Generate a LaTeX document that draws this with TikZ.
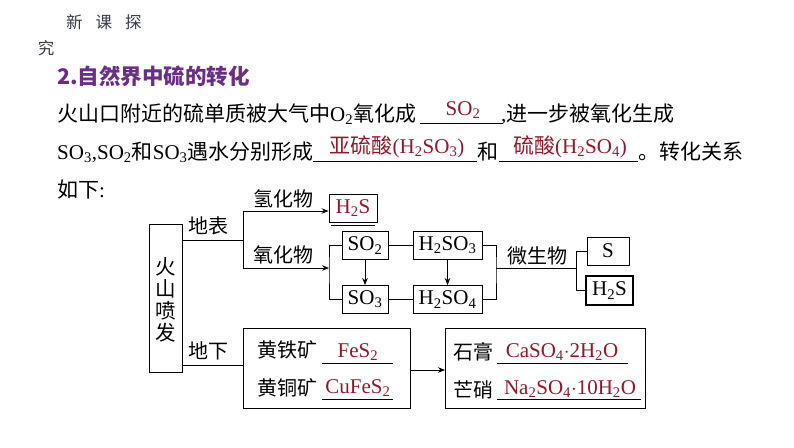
\documentclass[tikz,border=0pt]{standalone}
\usepackage{fontspec}
\setmainfont{Liberation Serif}
\newfontfamily\cjk{Noto Sans CJK SC}
\usetikzlibrary{arrows.meta}
\definecolor{ansred}{RGB}{145,25,45}
\definecolor{titlepurple}{RGB}{108,45,135}
\definecolor{hdrgray}{RGB}{55,60,75}
\newcommand{\sbs}[1]{\textsubscript{#1}}
\tikzset{
  bodytxt/.style={anchor=base west, inner sep=0pt, font=\fontsize{21}{21}\selectfont},
  anstxt/.style={anchor=base, inner sep=0pt, text=ansred, font=\fontsize{21}{21}\selectfont},
  lbl/.style={inner sep=0pt, font=\cjk\fontsize{20}{20}\selectfont},
  fbox/.style={draw, line width=0.9pt, inner sep=0pt, font=\fontsize{21}{21}\selectfont},
  conn/.style={line width=0.9pt},
  arr/.style={line width=0.9pt, -{Stealth[length=7pt,width=5.5pt]}},
  blank/.style={line width=0.9pt}
}
\begin{document}
\begin{tikzpicture}[x=1pt,y=-1pt]
\useasboundingbox[fill=white] (0,0) rectangle (794,447);

% header
\node[inner sep=0pt, text=hdrgray, font=\cjk\fontsize{16.5}{16.5}\selectfont, anchor=west] (hdr) at (66,22) {新\hspace{13pt}课\hspace{13pt}探};
\node[inner sep=0pt, text=hdrgray, font=\cjk\fontsize{16.5}{16.5}\selectfont] (hdr2) at (46,48) {究};
\node[inner sep=0pt, text=titlepurple, font=\cjk\bfseries\fontsize{21.5}{21.5}\selectfont, anchor=west] (title) at (57,76) {2.自然界中硫的转化};

% line 1
\node[bodytxt] (l1a) at (57,121) {{\cjk 火山口附近的硫单质被大气中}O\sbs{2}{\cjk 氧化成}};
\draw[blank] (420,123) coordinate (u1a) -- (503,123) coordinate (u1b);
\node[anstxt] (a1) at (463,115) {SO\sbs{2}};
\node[bodytxt] (l1b) at (501,121) {,{\cjk 进一步被氧化生成}};

% line 2
\node[bodytxt] (l2a) at (57,159) {SO\sbs{3},SO\sbs{2}{\cjk 和}SO\sbs{3}{\cjk 遇水分别形成}};
\draw[blank] (313,161) coordinate (u2a) -- (477,161) coordinate (u2b);
\node[anstxt] (a2) at (397,153) {{\cjk 亚硫酸}(H\sbs{2}SO\sbs{3})};
\node[bodytxt] (l2b) at (477,159) {{\cjk 和}};
\draw[blank] (499,161) coordinate (u3a) -- (638,161) coordinate (u3b);
\node[anstxt] (a3) at (570,153) {{\cjk 硫酸}(H\sbs{2}SO\sbs{4})};
\node[bodytxt] (l2c) at (638,159) {{\cjk 。转化关系}};

% line 3
\node[bodytxt] (l3) at (57,197) {{\cjk 如下}:};

% volcano box
\node[draw, line width=0.9pt, minimum width=33pt, minimum height=148pt, inner sep=0pt] (volc) at (165.5,298) {};
\node[lbl, align=center, font=\cjk\fontsize{20.5}{22}\selectfont] (volct) at (165.5,300) {火\\山\\喷\\发};

% surface branch
\coordinate (js) at (243,240);
\draw[conn] (volc.east |- js) -- (js);
\node[lbl] (surf) at (208,226) {地表};
\coordinate (jst) at (243,211);
\coordinate (jsb) at (243,268);
\draw[conn] (jst) -- (jsb);
\node[lbl] (hyd) at (283,199) {氢化物};
\node[lbl] (oxi) at (283,255) {氧化物};

% H2S top
\node[fbox, minimum width=48pt, minimum height=28pt, text=ansred] (h2sa) at (353,208) {H\sbs{2}S};
\draw[arr] (jst) -- (h2sa.west |- jst);
\draw[conn] ([xshift=2pt,yshift=-3pt]h2sa.south west) -- ([xshift=-2pt,yshift=-3pt]h2sa.south east);

% oxide bracket
\coordinate (ob) at (329,268);
\draw[arr] (jsb) -- (ob);
\node[fbox, minimum width=46pt, minimum height=28pt] (so2) at (365,245.5) {SO\sbs{2}};
\node[fbox, minimum width=46pt, minimum height=28pt] (so3) at (365,299.5) {SO\sbs{3}};
\draw[conn] (so2.west) -| (ob) |- (so3.west);
\draw[arr] (so2.south) -- (so3.north);

\node[fbox, minimum width=69pt, minimum height=28pt] (h2so3) at (447.5,245.5) {H\sbs{2}SO\sbs{3}};
\node[fbox, minimum width=69pt, minimum height=28pt] (h2so4) at (447.5,299.5) {H\sbs{2}SO\sbs{4}};
\draw[conn] (so2.east) -- (h2so3.west);
\draw[conn] (so3.east) -- (h2so4.west);
\draw[arr] (h2so3.south) -- (h2so4.north);

\coordinate (rb) at (496,268);
\draw[conn] (h2so3.east) -| (rb) |- (h2so4.east);
\coordinate (mb) at (576,268);
\draw[conn] (rb) -- (mb);
\node[lbl] (micro) at (537,256) {微生物};

\node[fbox, minimum width=42pt, minimum height=28pt] (s) at (608,251) {S};
\node[fbox, line width=1.5pt, minimum width=47pt, minimum height=29pt] (h2sb) at (609.5,290.5) {H\sbs{2}S};
\draw[conn] (s.west) -| (mb) |- (h2sb.west);

% underground
\coordinate (ju) at (243,365);
\draw[conn] (volc.east |- ju) -- (ju);
\node[lbl] (under) at (208,351) {地下};
\node[draw, line width=0.9pt, minimum width=167pt, minimum height=80pt, inner sep=0pt, anchor=north west] (ore) at (243,328) {};
\node[draw, line width=0.9pt, minimum width=200pt, minimum height=80pt, inner sep=0pt, anchor=north west] (salt) at (445,328) {};
\draw[arr] (ore.east |- 0,370) -- (salt.west |- 0,370);

\node[lbl, anchor=west] (pyr) at (257,350) {黄铁矿};
\draw[blank] (322,363) coordinate (u4a) -- (393,363) coordinate (u4b);
\node[anstxt] (a4) at (358,357) {FeS\sbs{2}};
\node[lbl, anchor=west] (chal) at (257,388) {黄铜矿};
\draw[blank] (322,399) coordinate (u5a) -- (393,399) coordinate (u5b);
\node[anstxt] (a5) at (358,393) {CuFeS\sbs{2}};

\node[lbl, anchor=west] (gyp) at (453,352) {石膏};
\draw[blank] (497,363) coordinate (u6a) -- (628,363) coordinate (u6b);
\node[anstxt] (a6) at (562,357) {CaSO\sbs{4}$\cdot$2H\sbs{2}O};
\node[lbl, anchor=west] (mir) at (453,390) {芒硝};
\draw[blank] (497,399) coordinate (u7a) -- (641,399) coordinate (u7b);
\node[anstxt] (a7) at (570,394) {Na\sbs{2}SO\sbs{4}$\cdot$10H\sbs{2}O};
\end{tikzpicture}
\end{document}
